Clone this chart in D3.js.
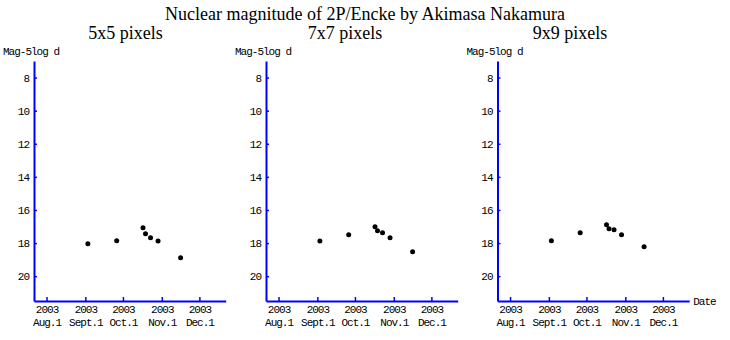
<!DOCTYPE html>
<html>
<head>
<meta charset="utf-8">
<script src="https://cdn.jsdelivr.net/npm/d3@7"></script>
<style>
  html, body { margin: 0; padding: 0; background: #fff; }
  svg { display: block; }
  .mono { font-family: "Liberation Mono", "DejaVu Sans Mono", monospace; font-size: 11px; letter-spacing: -1px; fill: #000; }
  .serif { font-family: "Liberation Serif", "Times New Roman", serif; fill: #000; }
</style>
</head>
<body>
<svg id="chart" width="730" height="340"></svg>
<script>
// Observation dates of comet 2P/Encke
const obsDates = ["2003-09-03", "2003-09-26", "2003-10-17", "2003-10-19", "2003-10-23", "2003-10-29", "2003-11-16"];

// Nuclear magnitude (Mag - 5 log d) for each photometric aperture
const mag5x5 = [18.04, 17.86, 17.07, 17.44, 17.68, 17.88, 18.89];
const mag7x7 = [17.88, 17.50, 17.01, 17.25, 17.38, 17.68, 18.53];
const mag9x9 = [17.86, 17.38, 16.89, 17.13, 17.19, 17.50, 18.22];

const panelTitles = ["5x5 pixels", "7x7 pixels", "9x9 pixels"];
const panelSeries = [mag5x5, mag7x7, mag9x9];

// Axis ticks
const xTickDates = ["2003-08-01", "2003-09-01", "2003-10-01", "2003-11-01", "2003-12-01"];
const xTickYears = ["2003", "2003", "2003", "2003", "2003"];
const xTickMonths = ["Aug.1", "Sept.1", "Oct.1", "Nov.1", "Dec.1"];
const yTicks = [8, 10, 12, 14, 16, 18, 20];

(function draw() {
  const parse = d3.utcParse("%Y-%m-%d");
  const svg = d3.select("#chart");

  svg.append("text")
    .attr("class", "serif")
    .attr("x", 365).attr("y", 20)
    .attr("text-anchor", "middle")
    .style("font-size", "18px")
    .text("Nuclear magnitude of 2P/Encke by Akimasa Nakamura");

  const panelLeft = [34, 266, 497.5];
  const subtitleX = [125.5, 345, 570];
  const plotW = 191.7;
  const plotTop = 61, plotBottom = 301;
  const blue = "#0000ff";

  const y = d3.scaleLinear().domain([7, 21.5]).range([plotTop, plotBottom]);

  panelSeries.forEach((series, i) => {
    const x0 = panelLeft[i];
    const x = d3.scaleUtc()
      .domain([parse("2003-07-22"), parse("2003-12-22")])
      .range([x0, x0 + plotW]);

    svg.append("text")
      .attr("class", "serif")
      .attr("x", subtitleX[i]).attr("y", 39)
      .attr("text-anchor", "middle")
      .style("font-size", "18px")
      .text(panelTitles[i]);

    svg.append("text")
      .attr("class", "mono")
      .attr("x", x0 - 31).attr("y", 55)
      .text("Mag-5log d");

    // y axis
    const gy = svg.append("g")
      .attr("transform", `translate(${x0},0)`)
      .call(d3.axisLeft(y).tickValues(yTicks).tickSizeInner(-3).tickSizeOuter(0).tickPadding(5).tickFormat(d3.format("d")));
    gy.attr("font-family", null).attr("font-size", null);
    gy.select(".domain").attr("stroke", blue).attr("stroke-width", 2);
    gy.selectAll(".tick line").attr("stroke", blue).attr("stroke-width", 1.5);
    gy.selectAll(".tick text").attr("class", "mono");

    // x axis
    const gx = svg.append("g")
      .attr("transform", `translate(0,${plotBottom})`)
      .call(d3.axisBottom(x).tickValues(xTickDates.map(parse)).tickSizeInner(-4).tickSizeOuter(0).tickPadding(3).tickFormat(() => ""));
    gx.attr("font-family", null).attr("font-size", null);
    gx.select(".domain").attr("stroke", blue).attr("stroke-width", 2);
    gx.selectAll(".tick line").attr("stroke", blue).attr("stroke-width", 1.5);
    gx.selectAll(".tick text").each(function (d, j) {
      const t = d3.select(this).attr("class", "mono").attr("dy", null).attr("y", 12);
      t.append("tspan").attr("x", 0).attr("y", 12).text(xTickYears[j]);
      t.append("tspan").attr("x", 0).attr("y", 25).text(xTickMonths[j]);
    });

    if (i === 2) {
      svg.append("text")
        .attr("class", "mono")
        .attr("x", x0 + plotW + 4).attr("y", 305)
        .text("Date");
    }

    svg.append("g")
      .selectAll("circle")
      .data(series)
      .join("circle")
      .attr("cx", (d, k) => x(parse(obsDates[k])))
      .attr("cy", d => y(d))
      .attr("r", 2.5)
      .attr("fill", "#000");
  });
})();
</script>
</body>
</html>
